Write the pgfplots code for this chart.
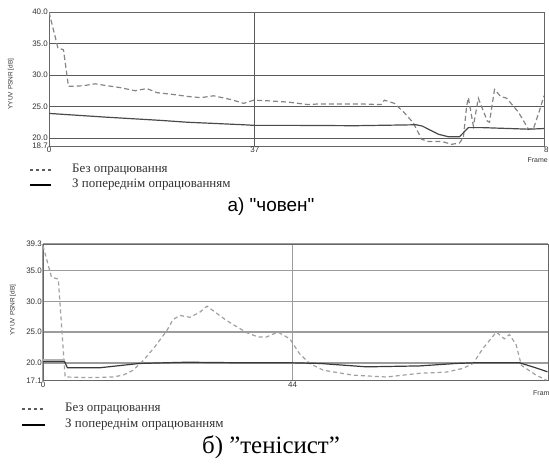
\documentclass[border=0pt]{standalone}
\usepackage{fontspec}
\setmainfont{Liberation Serif}
\setsansfont{Liberation Sans}
\newfontfamily\titlesans{Liberation Sans}
\usepackage{pgfplots}
\pgfplotsset{compat=1.18}

\definecolor{dashA}{HTML}{858585}
\definecolor{solidA}{HTML}{4A4A4A}
\definecolor{gridA}{HTML}{5A5A5A}
\definecolor{dashB}{HTML}{A0A0A0}
\definecolor{solidB}{HTML}{3A3A3A}
\definecolor{gridB}{HTML}{9C9C9C}
\definecolor{txt}{HTML}{333333}

\pgfplotsset{
 psnr/.style={
  scale only axis, anchor=south west,
  xmin=0, xmax=89,
  axis line style={draw=gray!80!black, line width=0.8bp},
  major tick length=0pt,
  tick label style={font=\fontsize{8}{8}\sffamily, text=txt, inner sep=1bp},
  /pgf/number format/assume math mode=true,
  ymajorgrids, xmajorgrids,
 }
}

\begin{document}
\begin{tikzpicture}[x=1bp,y=1bp]
\useasboundingbox (0,0) rectangle (549,464);

% --- a) choven
\begin{axis}[psnr,
 at={(49bp,317.8bp)}, width=495bp, height=134.2bp,
 ymin=18.7, ymax=40,
 ytick={18.7,20,25,30,35,40},
 yticklabels={18.7,20.0,25.0,30.0,35.0,40.0},
 xtick={0,37}, xticklabels={0,37},
 grid style={draw=gridA, line width=0.9bp},
]
\addplot[dashA, line width=1.2bp, dash pattern=on 5bp off 3bp] coordinates {
(0,40.0) (1.6,34.3) (2.6,34.0) (3.5,28.2) (4.4,28.2) (6.2,28.3) (8.3,28.6)
(10.4,28.3) (12.8,28.0) (15.5,27.5) (17.6,27.85) (19.4,27.2) (22.4,26.9)
(24.9,26.6) (27.3,26.4) (29.6,26.7) (32.7,26.1) (35.0,25.5) (36.8,26.0)
(39.4,25.9) (43.0,25.7) (46.6,25.3) (48.4,25.4) (52.5,25.4) (56.1,25.4)
(59.7,25.3) (60.3,26.0) (62.1,25.5) (63.9,24.0) (65.5,22.4) (67.0,19.8)
(68.2,19.45) (70.6,19.45) (72.4,19.0) (73.8,19.2) (74.5,20.1) (75.1,25.1)
(75.4,26.4) (76.3,21.9) (77.2,26.3) (78.8,22.7) (79.2,22.5) (80.1,27.7)
(81.2,26.6) (82.3,26.3) (84.4,24.1) (86.2,21.4) (87.1,21.5) (88.1,24.1)
(89,26.7)};
\addplot[solidA, line width=1.2bp] coordinates {
(0,23.9) (10.4,23.3) (20,22.8) (24.9,22.5) (30,22.3) (35,22.1) (37,22.0)
(45,22.0) (55,21.95) (66,22.1) (67.1,21.9) (70,20.6) (71.8,20.2) (73.8,20.2)
(75.4,21.65) (77.8,21.65) (86.2,21.4) (89,21.5)};
\end{axis}
\node[font=\fontsize{8}{8}\sffamily, text=txt, anchor=north west, inner sep=1bp] at (543,317.8) {89};
\node[font=\fontsize{7}{7}\sffamily, text=txt, anchor=east, inner sep=0pt] at (548,304) {Frame};
\node[font=\fontsize{6.5}{7}\sffamily, text=txt, rotate=90] at (11,380) {YYUV PSNR [dB]};

% legend a
\draw[txt!80, line width=2bp, dash pattern=on 3bp off 3bp] (30,294) -- (51,294);
\draw[black, line width=2.5bp] (30,279) -- (51,279);
\node[anchor=west, inner sep=0pt, font=\fontsize{13}{14}\selectfont, text=txt] at (72,294) {Без опрацювання};
\node[anchor=west, inner sep=0pt, font=\fontsize{13}{14}\selectfont, text=txt] at (72,279) {З попереднім опрацюванням};
\node[font=\fontsize{19}{20}\titlesans, text=black] at (271,257) {а) "човен"};

% --- b) tenisyst
\begin{axis}[psnr,
 at={(43bp,83.3bp)}, width=505bp, height=136.7bp,
 ymin=17.1, ymax=39.3,
 ytick={17.1,20,25,30,35,39.3},
 yticklabels={17.1,20.0,25.0,30.0,35.0,39.3},
 xtick={0,44}, xticklabels={0,44},
 grid style={draw=gridB, line width=1.5bp},
]
\addplot[dashB, line width=1.2bp, dash pattern=on 4bp off 3bp] coordinates {
(0,39.0) (1.5,33.9) (2.7,33.6) (3.9,17.7) (8.3,17.6) (12.3,17.7) (14.1,18.0)
(15.9,18.8) (17.7,20.4) (19.7,22.6) (21.8,25.2) (22.9,27.0) (24.1,27.7)
(25.9,27.4) (27.6,28.2) (28.9,29.2) (32.3,26.9) (35.9,24.9) (37.9,24.2)
(39.4,24.2) (41.4,25.0) (43.5,23.9) (45.2,21.5) (47.0,19.9) (49.4,18.8)
(54.6,18.0) (60.5,17.7) (66.4,18.3) (71.1,18.5) (74.0,19.1) (75.8,19.9)
(77.5,22.3) (79.9,25.0) (81.3,23.9) (82.2,24.6) (83.4,22.9) (84.3,19.6)
(86.9,18.0) (88.7,17.2)};
\addplot[gray!60, line width=3bp] coordinates {(0,20.3) (3.8,20.3)};
\addplot[solidB, line width=1.2bp] coordinates {
(0,20.2) (3.8,20.2) (4.3,19.2) (10,19.2) (13,19.5) (17,19.9) (25.3,20.1)
(36,20.0) (44,20.0) (48.8,19.9) (57,19.35) (66.4,19.5) (72.8,19.9)
(75.8,20.0) (84,20.0) (86.3,19.35) (88.9,18.55)};
\end{axis}
\node[font=\fontsize{7}{7}\sffamily, text=txt, anchor=west, inner sep=0pt] at (533,71) {Frame};
\node[font=\fontsize{6.5}{7}\sffamily, text=txt, rotate=90] at (13,154) {YYUV PSNR [dB]};

% legend b
\draw[txt!80, line width=2bp, dash pattern=on 3bp off 3bp] (22,55) -- (45,55);
\draw[black, line width=2.5bp] (22,39) -- (45,39);
\node[anchor=west, inner sep=0pt, font=\fontsize{13}{14}\selectfont, text=txt] at (65,55) {Без опрацювання};
\node[anchor=west, inner sep=0pt, font=\fontsize{13}{14}\selectfont, text=txt] at (65,39) {З попереднім опрацюванням};
\node[font=\fontsize{25}{26}\selectfont, text=black] at (271,17) {б) ”тенісист”};
\end{tikzpicture}
\end{document}
